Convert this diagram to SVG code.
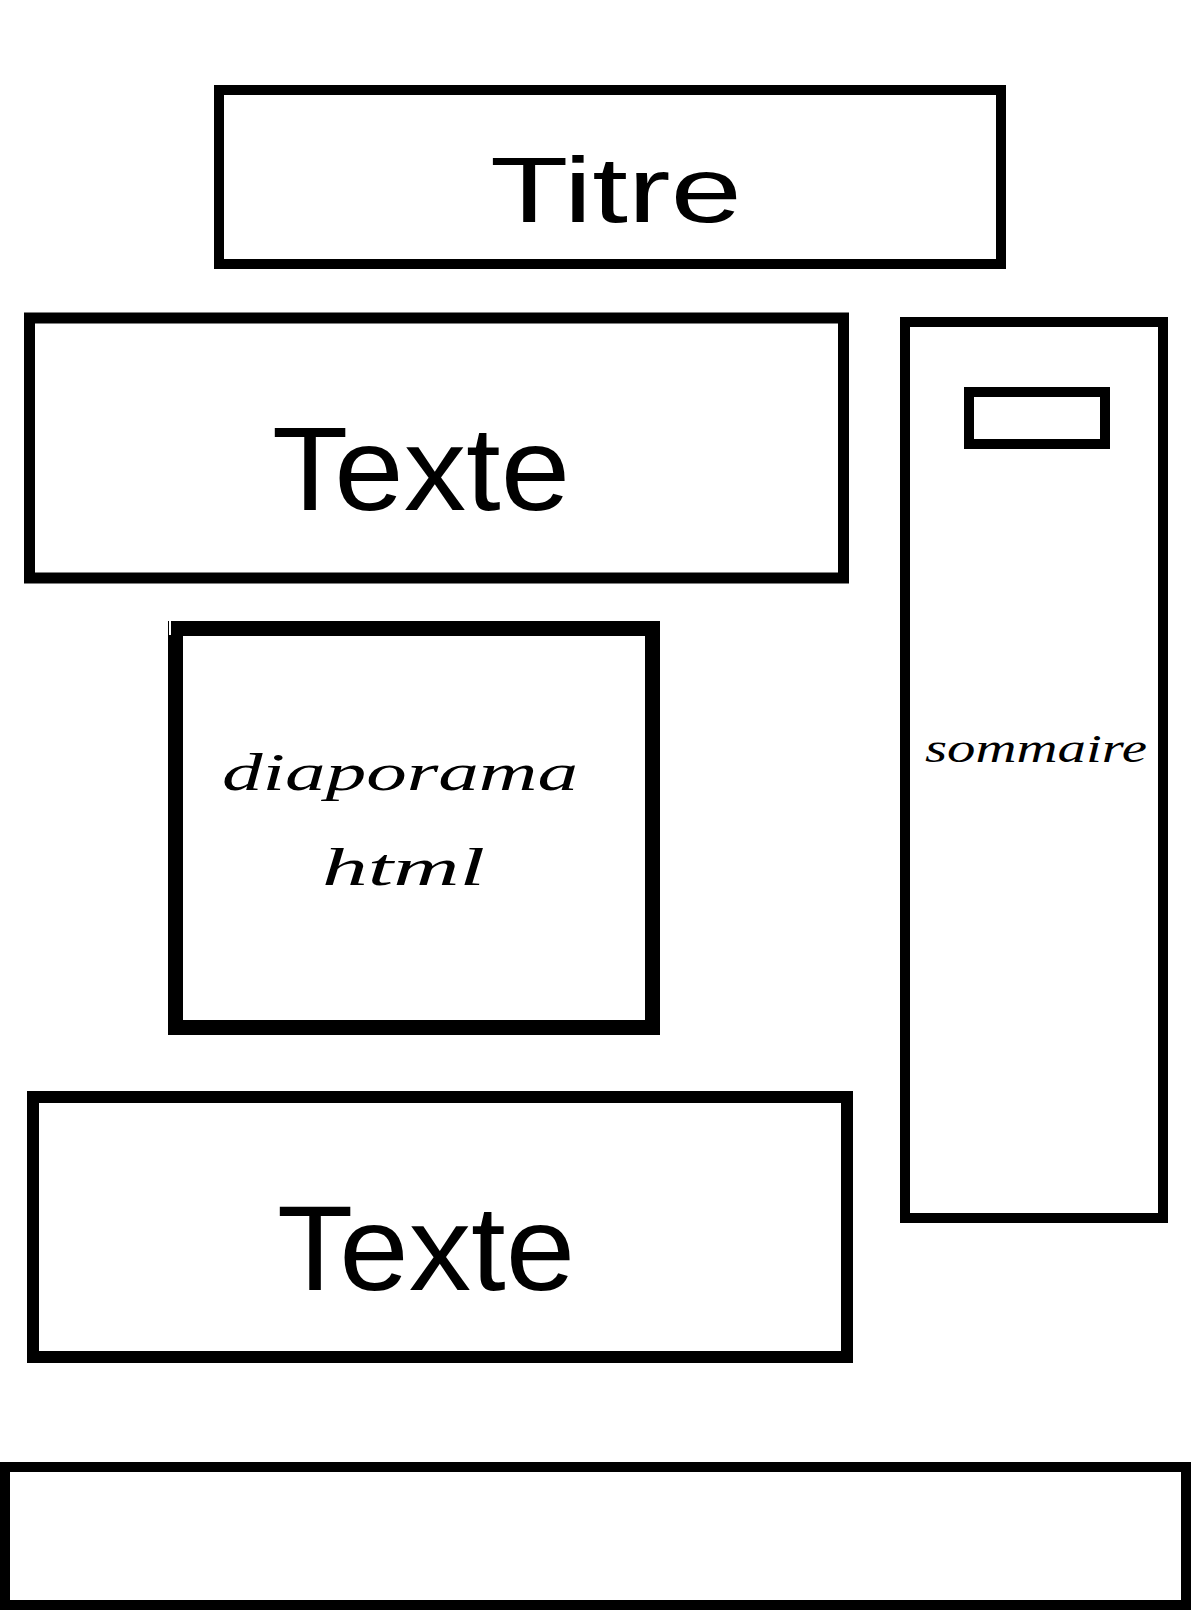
<svg xmlns="http://www.w3.org/2000/svg" width="1191" height="1610" viewBox="0 0 1191 1610">
  <style>
    .box { fill: #ffffff; stroke: #000000; }
    .hand { font-family: "Liberation Sans", "DejaVu Sans", sans-serif; fill: #000000; }
    .script { font-family: "Liberation Serif", "DejaVu Serif", serif; font-style: italic; fill: #000000; }
  </style>
  <rect x="0" y="0" width="1191" height="1610" fill="#ffffff"/>

  <g id="titre">
    <rect class="box" x="219" y="90" width="782" height="174" stroke-width="10"/>
    <text class="hand" x="490" y="222" font-size="93" textLength="252" lengthAdjust="spacingAndGlyphs">Titre</text>
  </g>

  <g id="texte-haut">
    <rect class="box" x="29.5" y="318" width="814" height="260" stroke-width="11"/>
    <text class="hand" x="272" y="510" font-size="118" textLength="298" lengthAdjust="spacingAndGlyphs">Texte</text>
  </g>

  <g id="sommaire">
    <rect class="box" x="905" y="322" width="258" height="896" stroke-width="10"/>
    <rect class="box" x="969" y="392" width="136" height="52" stroke-width="10"/>
    <text class="script" x="925" y="762" font-size="40" textLength="222" lengthAdjust="spacingAndGlyphs">sommaire</text>
  </g>

  <g id="diaporama">
    <rect class="box" x="175.5" y="628.5" width="477" height="399" stroke-width="15"/>
    <rect x="169" y="621" width="2" height="14" fill="#ffffff"/>
    <text class="script" x="222" y="790" font-size="53" textLength="356" lengthAdjust="spacingAndGlyphs">diaporama</text>
    <text class="script" x="322" y="885" font-size="53" textLength="163" lengthAdjust="spacingAndGlyphs">html</text>
  </g>

  <g id="texte-bas">
    <rect class="box" x="33" y="1097" width="814" height="260" stroke-width="12"/>
    <text class="hand" x="277" y="1290" font-size="120" textLength="298" lengthAdjust="spacingAndGlyphs">Texte</text>
  </g>

  <g id="pied">
    <rect class="box" x="5" y="1467" width="1181" height="138" stroke-width="10"/>
  </g>

  <g id="connectors"></g>
</svg>
